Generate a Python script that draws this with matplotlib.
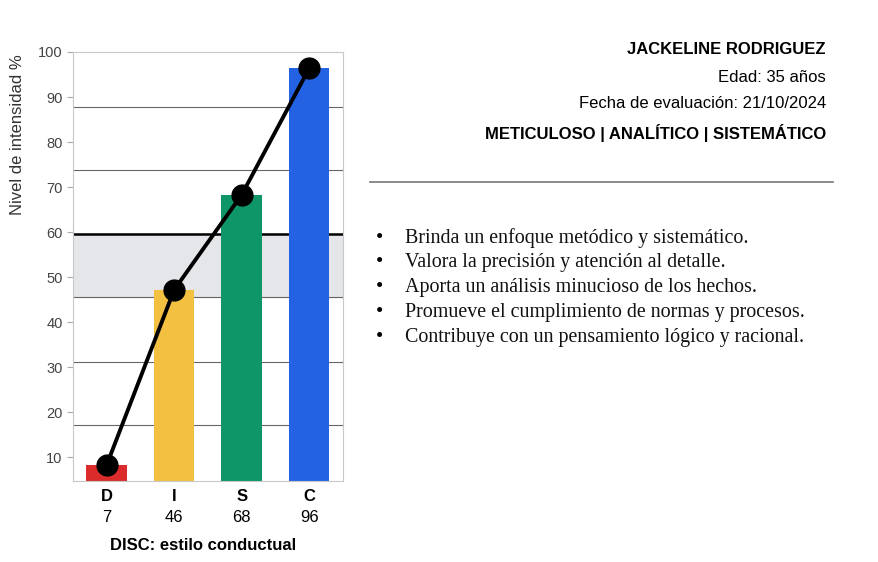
import numpy as np
import matplotlib
matplotlib.use('Agg')
import matplotlib.pyplot as plt

# data
categories = ['D', 'I', 'S', 'C']
scores = [7, 46, 68, 96]
plot_values = [8.3, 47.2, 68.3, 96.4]
bar_colors = ['#dc2b2b', '#f4c042', '#0f9668', '#2462e4']
yticks = [10, 20, 30, 40, 50, 60, 70, 80, 90, 100]
grid_levels = [17.1, 31.1, 45.6, 73.8, 87.8]
band = (45.6, 59.6)
mid_line = 59.6

name = 'JACKELINE RODRIGUEZ'
age_txt = 'Edad: 35 años'
date_txt = 'Fecha de evaluación: 21/10/2024'
profile_txt = 'METICULOSO | ANALÍTICO | SISTEMÁTICO'
bullets = [
    'Brinda un enfoque metódico y sistemático.',
    'Valora la precisión y atención al detalle.',
    'Aporta un análisis minucioso de los hechos.',
    'Promueve el cumplimiento de normas y procesos.',
    'Contribuye con un pensamiento lógico y racional.',
]

W, H = 879, 562
fig = plt.figure(figsize=(W / 100, H / 100), dpi=100)
plt.rcParams['font.family'] = ['Liberation Sans', 'DejaVu Sans']
serif = ['Liberation Serif', 'DejaVu Serif']

# chart axes (pixel box -> figure fraction)
left, right, top, bottom = 73, 343, 52, 481
ax = fig.add_axes([left / W, 1 - bottom / H, (right - left) / W, (bottom - top) / H])

x = np.arange(len(categories))
ax.axhspan(*band, color='#e5e6ea', zorder=0)
for g in grid_levels:
    ax.axhline(g, color='#666666', lw=0.8, zorder=1)
ax.axhline(mid_line, color='black', lw=1.8, zorder=1)

ax.bar(x, plot_values, width=0.6, color=bar_colors, zorder=2, bottom=0)
ax.plot(x, plot_values, color='black', lw=2.8, marker='o', ms=15, zorder=3, clip_on=False)

ax.set_xlim(-0.5, 3.5)
ax.set_ylim(4.7, 100)
ax.set_yticks(yticks)
ax.tick_params(axis='y', labelsize=10.5, colors='#444444', length=4, color='#aaaaaa')
ax.tick_params(axis='x', length=0, pad=4)
ax.set_xticks(x)
ax.set_xticklabels(['' for _ in categories])
for i, (c, s) in enumerate(zip(categories, scores)):
    ax.annotate(c, (i, 4.7), xytext=(0, -6), textcoords='offset points',
                ha='center', va='top', fontsize=12, fontweight='bold')
    ax.annotate(str(s), (i, 4.7), xytext=(0, -21), textcoords='offset points',
                ha='center', va='top', fontsize=12)
for sp in ax.spines.values():
    sp.set_color('#c8c8c8')
    sp.set_linewidth(0.8)

fig.text(18 / W, 1 - 135 / H, 'Nivel de intensidad %', rotation=90,
         ha='center', va='center', fontsize=12, color='#333333')
fig.text(203 / W, 1 - 546 / H, 'DISC: estilo conductual', ha='center', va='center',
         fontsize=12, fontweight='bold')

# header text on the right
rx = 826 / W
fig.text(rx, 1 - 50 / H, name, ha='right', va='center', fontsize=12, fontweight='bold')
fig.text(rx, 1 - 77 / H, age_txt, ha='right', va='center', fontsize=12)
fig.text(rx, 1 - 104 / H, date_txt, ha='right', va='center', fontsize=12)
fig.text(rx, 1 - 133 / H, profile_txt, ha='right', va='center', fontsize=12, fontweight='bold')
fig.add_artist(plt.Line2D([370 / W, 833 / W], [1 - 182 / H, 1 - 182 / H],
                          color='#777777', lw=1.2))

for i, b in enumerate(bullets):
    y = 1 - (238 + i * 24.8) / H
    fig.text(380 / W, y, '•', ha='center', va='center', fontsize=15, family=serif)
    fig.text(405 / W, y, b, ha='left', va='center', fontsize=14.4,
             family=serif, color='#111111')

fig.savefig('out.png', dpi=100)
